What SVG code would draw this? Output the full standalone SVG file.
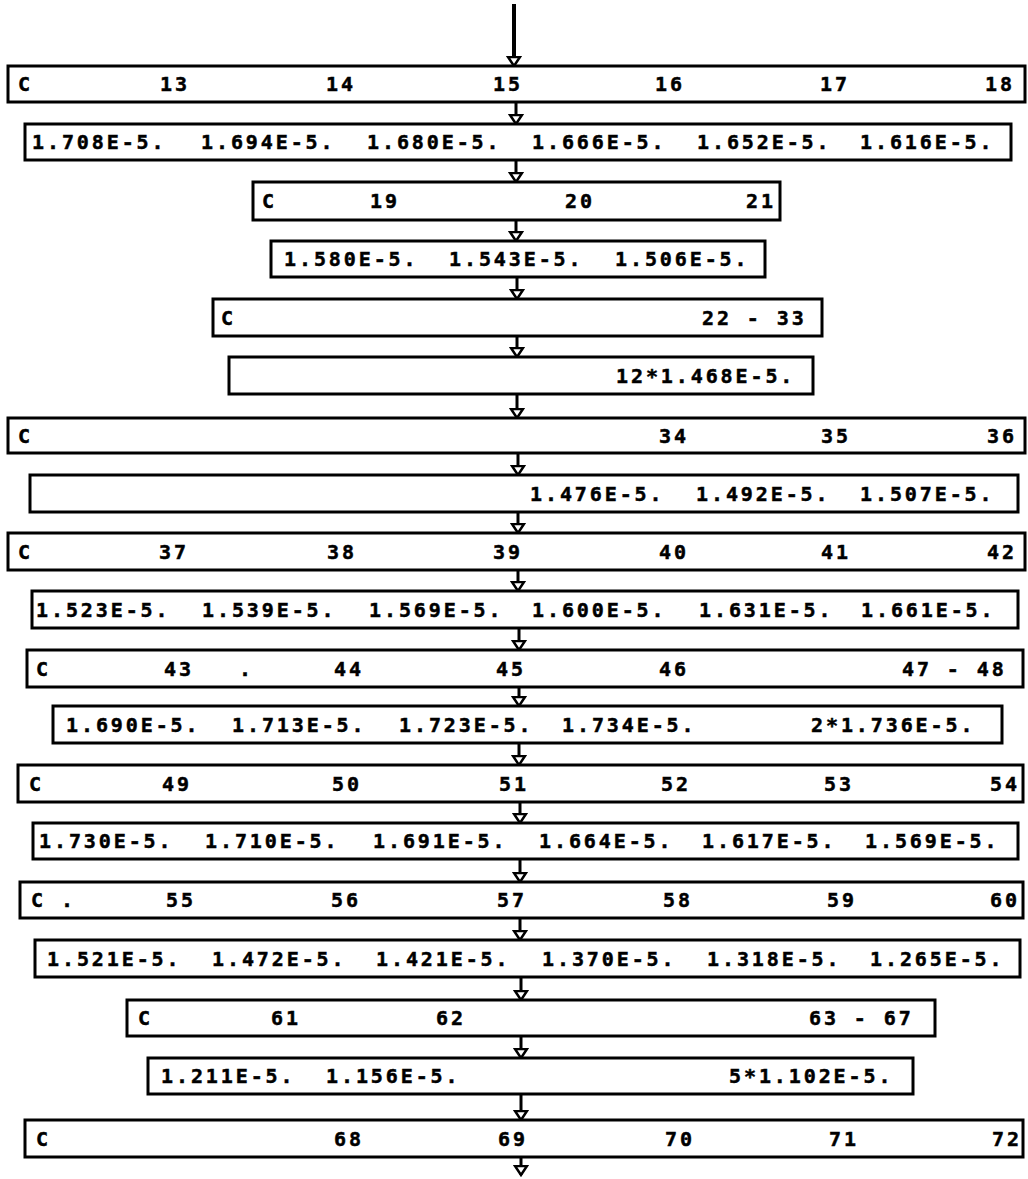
<svg xmlns="http://www.w3.org/2000/svg" width="1028" height="1179" viewBox="0 0 1028 1179">
<style>
.b{fill:#fff;stroke:#000;stroke-width:3}
.t{font-family:"DejaVu Sans Mono","Liberation Mono",monospace;font-weight:bold;font-size:20px;letter-spacing:2.9px;fill:#000;stroke:#000;stroke-width:0.5}
.c{stroke:#000;stroke-width:3;fill:none}
</style>
<defs>
<marker id="ah" markerUnits="userSpaceOnUse" markerWidth="16" markerHeight="12" viewBox="0 0 16 12" refX="8" refY="10.5">
<path d="M2,1.5 L14,1.5 L8,10.5 Z" fill="#fff" stroke="#000" stroke-width="2.5"/>
</marker>
</defs>
<rect width="1028" height="1179" fill="#fff"/>
<g id="connectors">
<line class="c" x1="514" y1="4" x2="514" y2="66" marker-end="url(#ah)" style="stroke-width:4"/>
<line class="c" x1="516" y1="102" x2="516" y2="124" marker-end="url(#ah)"/>
<line class="c" x1="516" y1="160" x2="516" y2="182" marker-end="url(#ah)"/>
<line class="c" x1="516" y1="220" x2="516" y2="241" marker-end="url(#ah)"/>
<line class="c" x1="517" y1="277" x2="517" y2="299" marker-end="url(#ah)"/>
<line class="c" x1="517" y1="336" x2="517" y2="357" marker-end="url(#ah)"/>
<line class="c" x1="517" y1="394" x2="517" y2="418" marker-end="url(#ah)"/>
<line class="c" x1="518" y1="453" x2="518" y2="475" marker-end="url(#ah)"/>
<line class="c" x1="518" y1="512" x2="518" y2="533" marker-end="url(#ah)"/>
<line class="c" x1="518" y1="570" x2="518" y2="591" marker-end="url(#ah)"/>
<line class="c" x1="519" y1="628" x2="519" y2="650" marker-end="url(#ah)"/>
<line class="c" x1="519" y1="687" x2="519" y2="706" marker-end="url(#ah)"/>
<line class="c" x1="519" y1="743" x2="519" y2="765" marker-end="url(#ah)"/>
<line class="c" x1="520" y1="802" x2="520" y2="823" marker-end="url(#ah)"/>
<line class="c" x1="520" y1="859" x2="520" y2="882" marker-end="url(#ah)"/>
<line class="c" x1="520" y1="918" x2="520" y2="940" marker-end="url(#ah)"/>
<line class="c" x1="521" y1="977" x2="521" y2="1000" marker-end="url(#ah)"/>
<line class="c" x1="521" y1="1036" x2="521" y2="1058" marker-end="url(#ah)"/>
<line class="c" x1="521" y1="1094" x2="521" y2="1120" marker-end="url(#ah)"/>
<line class="c" x1="521" y1="1157" x2="521" y2="1175" marker-end="url(#ah)"/>
</g>
<g id="n1"><rect class="b" x="8" y="66" width="1017" height="36"/>
<text class="t" y="91"><tspan x="18">C</tspan><tspan x="160">13</tspan><tspan x="326">14</tspan><tspan x="493">15</tspan><tspan x="655">16</tspan><tspan x="820">17</tspan><tspan x="985">18</tspan></text></g>
<g id="n2"><rect class="b" x="25" y="124" width="986" height="36"/>
<text class="t" y="149"><tspan x="32">1.708E-5.</tspan><tspan x="201">1.694E-5.</tspan><tspan x="367">1.680E-5.</tspan><tspan x="532">1.666E-5.</tspan><tspan x="697">1.652E-5.</tspan><tspan x="860">1.616E-5.</tspan></text></g>
<g id="n3"><rect class="b" x="253" y="182" width="527" height="38"/>
<text class="t" y="208"><tspan x="262">C</tspan><tspan x="370">19</tspan><tspan x="565">20</tspan><tspan x="746">21</tspan></text></g>
<g id="n4"><rect class="b" x="271" y="241" width="494" height="36"/>
<text class="t" y="266"><tspan x="284">1.580E-5.</tspan><tspan x="449">1.543E-5.</tspan><tspan x="615">1.506E-5.</tspan></text></g>
<g id="n5"><rect class="b" x="213" y="299" width="609" height="37"/>
<text class="t" y="325"><tspan x="221">C</tspan><tspan x="702">22 - 33</tspan></text></g>
<g id="n6"><rect class="b" x="229" y="357" width="584" height="37"/>
<text class="t" y="383"><tspan x="616">12*1.468E-5.</tspan></text></g>
<g id="n7"><rect class="b" x="8" y="418" width="1017" height="35"/>
<text class="t" y="443"><tspan x="18">C</tspan><tspan x="659">34</tspan><tspan x="821">35</tspan><tspan x="987">36</tspan></text></g>
<g id="n8"><rect class="b" x="30" y="475" width="988" height="37"/>
<text class="t" y="501"><tspan x="530">1.476E-5.</tspan><tspan x="696">1.492E-5.</tspan><tspan x="860">1.507E-5.</tspan></text></g>
<g id="n9"><rect class="b" x="8" y="533" width="1017" height="37"/>
<text class="t" y="559"><tspan x="18">C</tspan><tspan x="159">37</tspan><tspan x="327">38</tspan><tspan x="493">39</tspan><tspan x="659">40</tspan><tspan x="821">41</tspan><tspan x="987">42</tspan></text></g>
<g id="n10"><rect class="b" x="32" y="591" width="986" height="37"/>
<text class="t" y="617"><tspan x="36">1.523E-5.</tspan><tspan x="202">1.539E-5.</tspan><tspan x="369">1.569E-5.</tspan><tspan x="532">1.600E-5.</tspan><tspan x="699">1.631E-5.</tspan><tspan x="861">1.661E-5.</tspan></text></g>
<g id="n11"><rect class="b" x="27" y="650" width="996" height="37"/>
<text class="t" y="676"><tspan x="36">C</tspan><tspan x="164">43</tspan><tspan x="239">.</tspan><tspan x="334">44</tspan><tspan x="496">45</tspan><tspan x="659">46</tspan><tspan x="902">47 - 48</tspan></text></g>
<g id="n12"><rect class="b" x="53" y="706" width="949" height="37"/>
<text class="t" y="732"><tspan x="66">1.690E-5.</tspan><tspan x="232">1.713E-5.</tspan><tspan x="399">1.723E-5.</tspan><tspan x="562">1.734E-5.</tspan><tspan x="811">2*1.736E-5.</tspan></text></g>
<g id="n13"><rect class="b" x="18" y="765" width="1005" height="37"/>
<text class="t" y="791"><tspan x="29">C</tspan><tspan x="162">49</tspan><tspan x="332">50</tspan><tspan x="499">51</tspan><tspan x="661">52</tspan><tspan x="824">53</tspan><tspan x="990">54</tspan></text></g>
<g id="n14"><rect class="b" x="33" y="823" width="985" height="36"/>
<text class="t" y="848"><tspan x="39">1.730E-5.</tspan><tspan x="205">1.710E-5.</tspan><tspan x="373">1.691E-5.</tspan><tspan x="539">1.664E-5.</tspan><tspan x="702">1.617E-5.</tspan><tspan x="865">1.569E-5.</tspan></text></g>
<g id="n15"><rect class="b" x="20" y="882" width="1003" height="36"/>
<text class="t" y="907"><tspan x="31">C</tspan><tspan x="61">.</tspan><tspan x="166">55</tspan><tspan x="331">56</tspan><tspan x="497">57</tspan><tspan x="663">58</tspan><tspan x="827">59</tspan><tspan x="990">60</tspan></text></g>
<g id="n16"><rect class="b" x="35" y="940" width="985" height="37"/>
<text class="t" y="966"><tspan x="47">1.521E-5.</tspan><tspan x="212">1.472E-5.</tspan><tspan x="376">1.421E-5.</tspan><tspan x="542">1.370E-5.</tspan><tspan x="707">1.318E-5.</tspan><tspan x="870">1.265E-5.</tspan></text></g>
<g id="n17"><rect class="b" x="127" y="1000" width="808" height="36"/>
<text class="t" y="1025"><tspan x="138">C</tspan><tspan x="271">61</tspan><tspan x="436">62</tspan><tspan x="809">63 - 67</tspan></text></g>
<g id="n18"><rect class="b" x="148" y="1058" width="765" height="36"/>
<text class="t" y="1083"><tspan x="161">1.211E-5.</tspan><tspan x="326">1.156E-5.</tspan><tspan x="729">5*1.102E-5.</tspan></text></g>
<g id="n19"><rect class="b" x="25" y="1120" width="998" height="37"/>
<text class="t" y="1146"><tspan x="36">C</tspan><tspan x="334">68</tspan><tspan x="498">69</tspan><tspan x="665">70</tspan><tspan x="829">71</tspan><tspan x="992">72</tspan></text></g>
</svg>
